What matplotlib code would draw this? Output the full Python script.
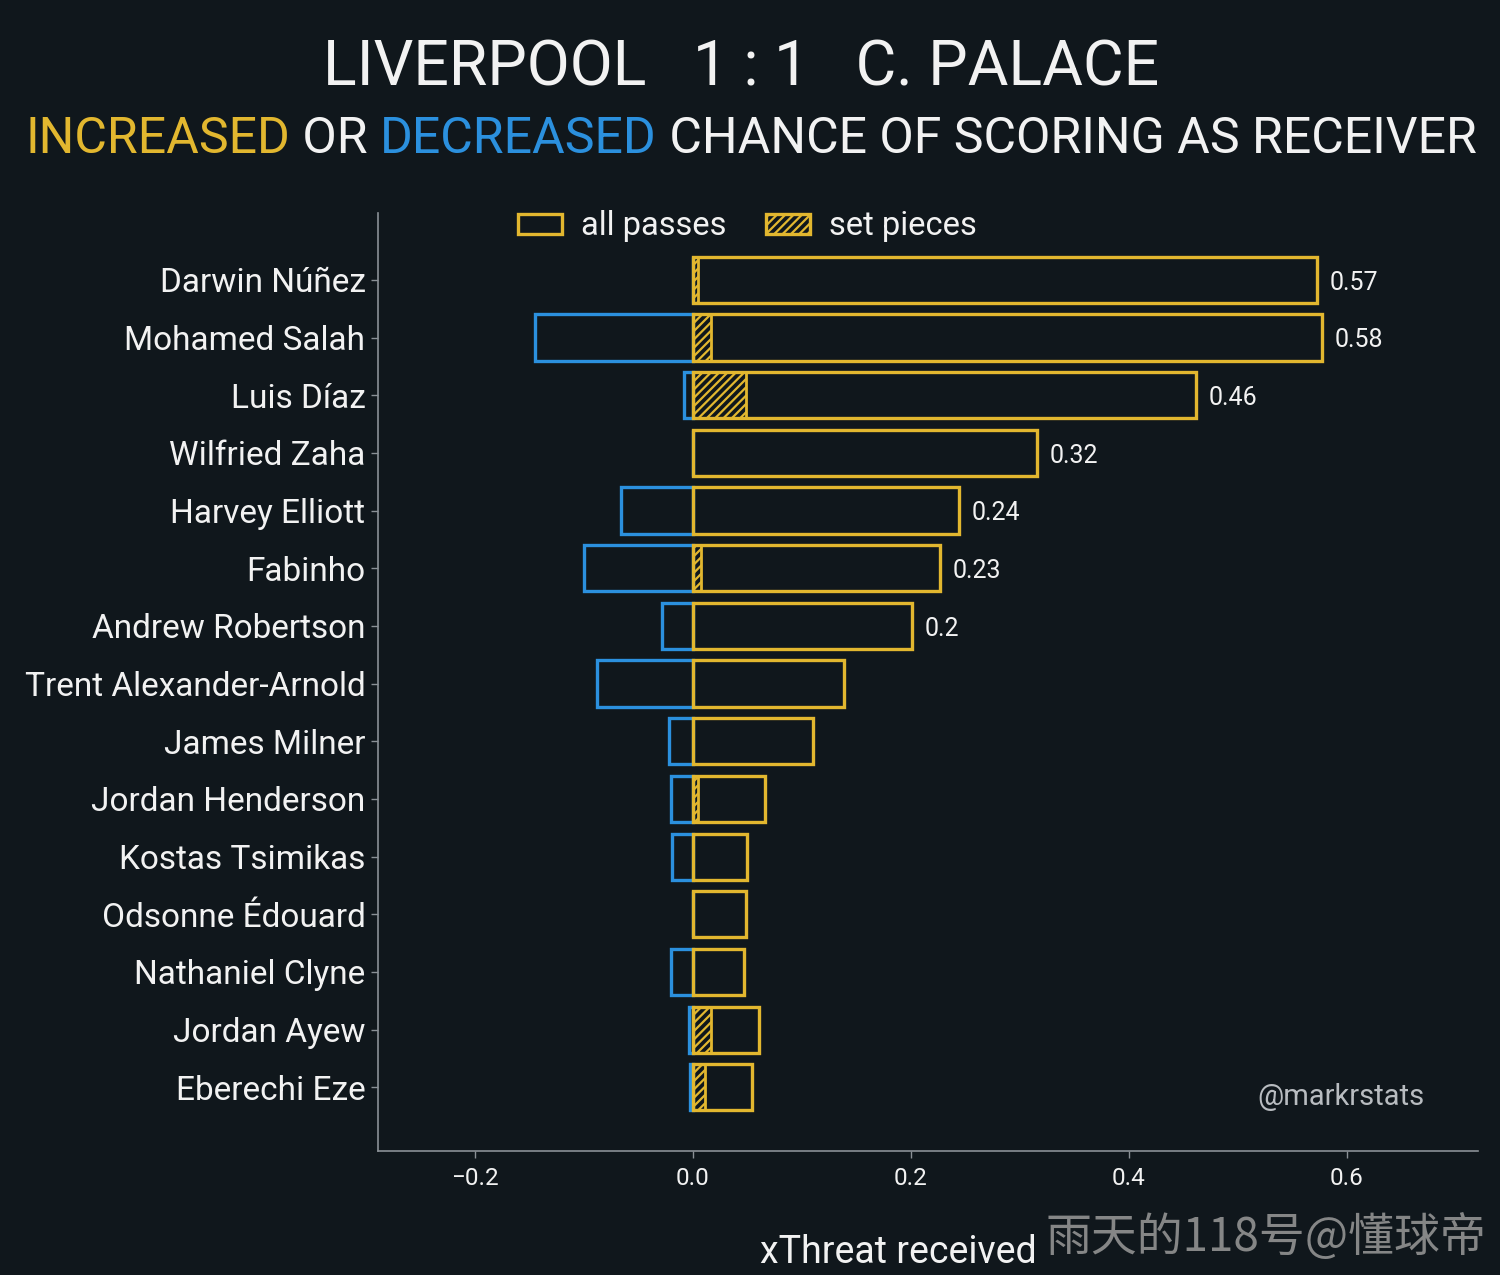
import matplotlib
matplotlib.use("Agg")
import matplotlib.pyplot as plt
from matplotlib.patches import Patch

# Data
players = ["Darwin Núñez", "Mohamed Salah", "Luis Díaz", "Wilfried Zaha", "Harvey Elliott",
           "Fabinho", "Andrew Robertson", "Trent Alexander-Arnold", "James Milner",
           "Jordan Henderson", "Kostas Tsimikas", "Odsonne Édouard", "Nathaniel Clyne",
           "Jordan Ayew", "Eberechi Eze"]
increased = [0.573, 0.577, 0.462, 0.316, 0.244, 0.227, 0.201, 0.139, 0.110,
             0.066, 0.050, 0.049, 0.047, 0.061, 0.054]
decreased = [0.0, -0.145, -0.008, 0.0, -0.066, -0.100, -0.028, -0.088, -0.022,
             -0.020, -0.019, 0.0, -0.020, -0.004, -0.003]
set_pieces = [0.005, 0.017, 0.049, 0.0, 0.0, 0.007, 0.0, 0.0, 0.0,
              0.005, 0.0, 0.0, 0.0, 0.017, 0.011]

# Colours
bg = "#10171c"
yellow = "#e2b72f"
blue = "#2b90de"
white = "#f2f2f2"
grey = "#8a9096"

plt.rcParams['font.family'] = ['Roboto', 'DejaVu Sans']
plt.rcParams['hatch.linewidth'] = 1.6
plt.rcParams['hatch.color'] = yellow

fig = plt.figure(figsize=(15, 12.75), dpi=100, facecolor=bg)
ax = fig.add_axes([0.252, 0.097, 0.733, 0.736], facecolor=bg)

ypos = list(range(len(players)))
h = 0.8

# blue bars first, yellow drawn on top
ax.barh(ypos, decreased, height=h, facecolor="none", edgecolor=blue, linewidth=2.4)
ax.barh(ypos, increased, height=h, facecolor="none", edgecolor=yellow, linewidth=2.4)
ax.barh(ypos, set_pieces, height=h, facecolor="none", edgecolor=yellow, linewidth=2.0,
        hatch="////")

# value labels for the bigger bars
for y, v in zip(ypos, increased):
    if v >= 0.2:
        ax.annotate(f"{round(v, 2):g}", (v, y), textcoords="offset points", xytext=(9, -2),
                    ha="left", va="center", color=white, fontsize=18)

ax.set_yticks(ypos)
ax.set_yticklabels(players, fontsize=24, color=white)
ax.set_ylim(len(players) - 1 + 1.11, -1.16)
ax.set_xlim(-0.289, 0.72)
ax.set_xticks([-0.2, 0.0, 0.2, 0.4, 0.6])
ax.set_xticklabels(["\u22120.2", "0.0", "0.2", "0.4", "0.6"], fontsize=17.5, color=white)
ax.tick_params(axis="both", colors=grey, length=5, width=1)
ax.tick_params(axis="x", labelcolor=white, pad=6)
ax.tick_params(axis="y", labelcolor=white, pad=4)
for s in ["top", "right"]:
    ax.spines[s].set_visible(False)
for s in ["left", "bottom"]:
    ax.spines[s].set_color(grey)
    ax.spines[s].set_linewidth(1.2)

ax.set_xlabel("xThreat received", fontsize=27, color=white)
ax.xaxis.set_label_coords(0.473, -0.088)

# legend
legend_elements = [
    Patch(facecolor="none", edgecolor=yellow, linewidth=2.4, label="all passes"),
    Patch(facecolor="none", edgecolor=yellow, linewidth=2.4, hatch="////", label="set pieces")]
leg = ax.legend(handles=legend_elements, loc="upper center", bbox_to_anchor=(0.336, 1.034),
                ncol=2, frameon=False, fontsize=23.5, labelcolor=white,
                handlelength=1.35, handleheight=0.55, columnspacing=1.2, handletextpad=0.6)

ax.text(0.952, 0.058, "@markrstats", transform=ax.transAxes, ha="right", va="center",
        fontsize=21, color="#b8bcc0")

# titles
fig.text(0.494, 0.946, "LIVERPOOL   1 : 1   C. PALACE", ha="center", va="center",
         fontsize=45, color=white)

# multi-coloured subtitle, each piece placed right after the previous one
pieces = [("INCREASED", yellow), (" OR ", white), ("DECREASED", blue),
          (" CHANCE OF SCORING AS RECEIVER", white)]
prev = ax.annotate(pieces[0][0], xy=(0.017, 0.891), xycoords="figure fraction",
                   ha="left", va="center", fontsize=36, color=pieces[0][1],
                   annotation_clip=False)
for txt, col in pieces[1:]:
    prev = ax.annotate(txt, xy=(1, 0), xycoords=prev, ha="left", va="bottom",
                       fontsize=36, color=col, annotation_clip=False)

# watermark from the source image
fig.text(0.991, 0.029, "雨天的118号@懂球帝", ha="right", va="center", fontsize=33,
         color="#9a9a9a", alpha=0.85, family=["Noto Sans CJK SC", "DejaVu Sans"])

fig.savefig("out.png", facecolor=bg)
